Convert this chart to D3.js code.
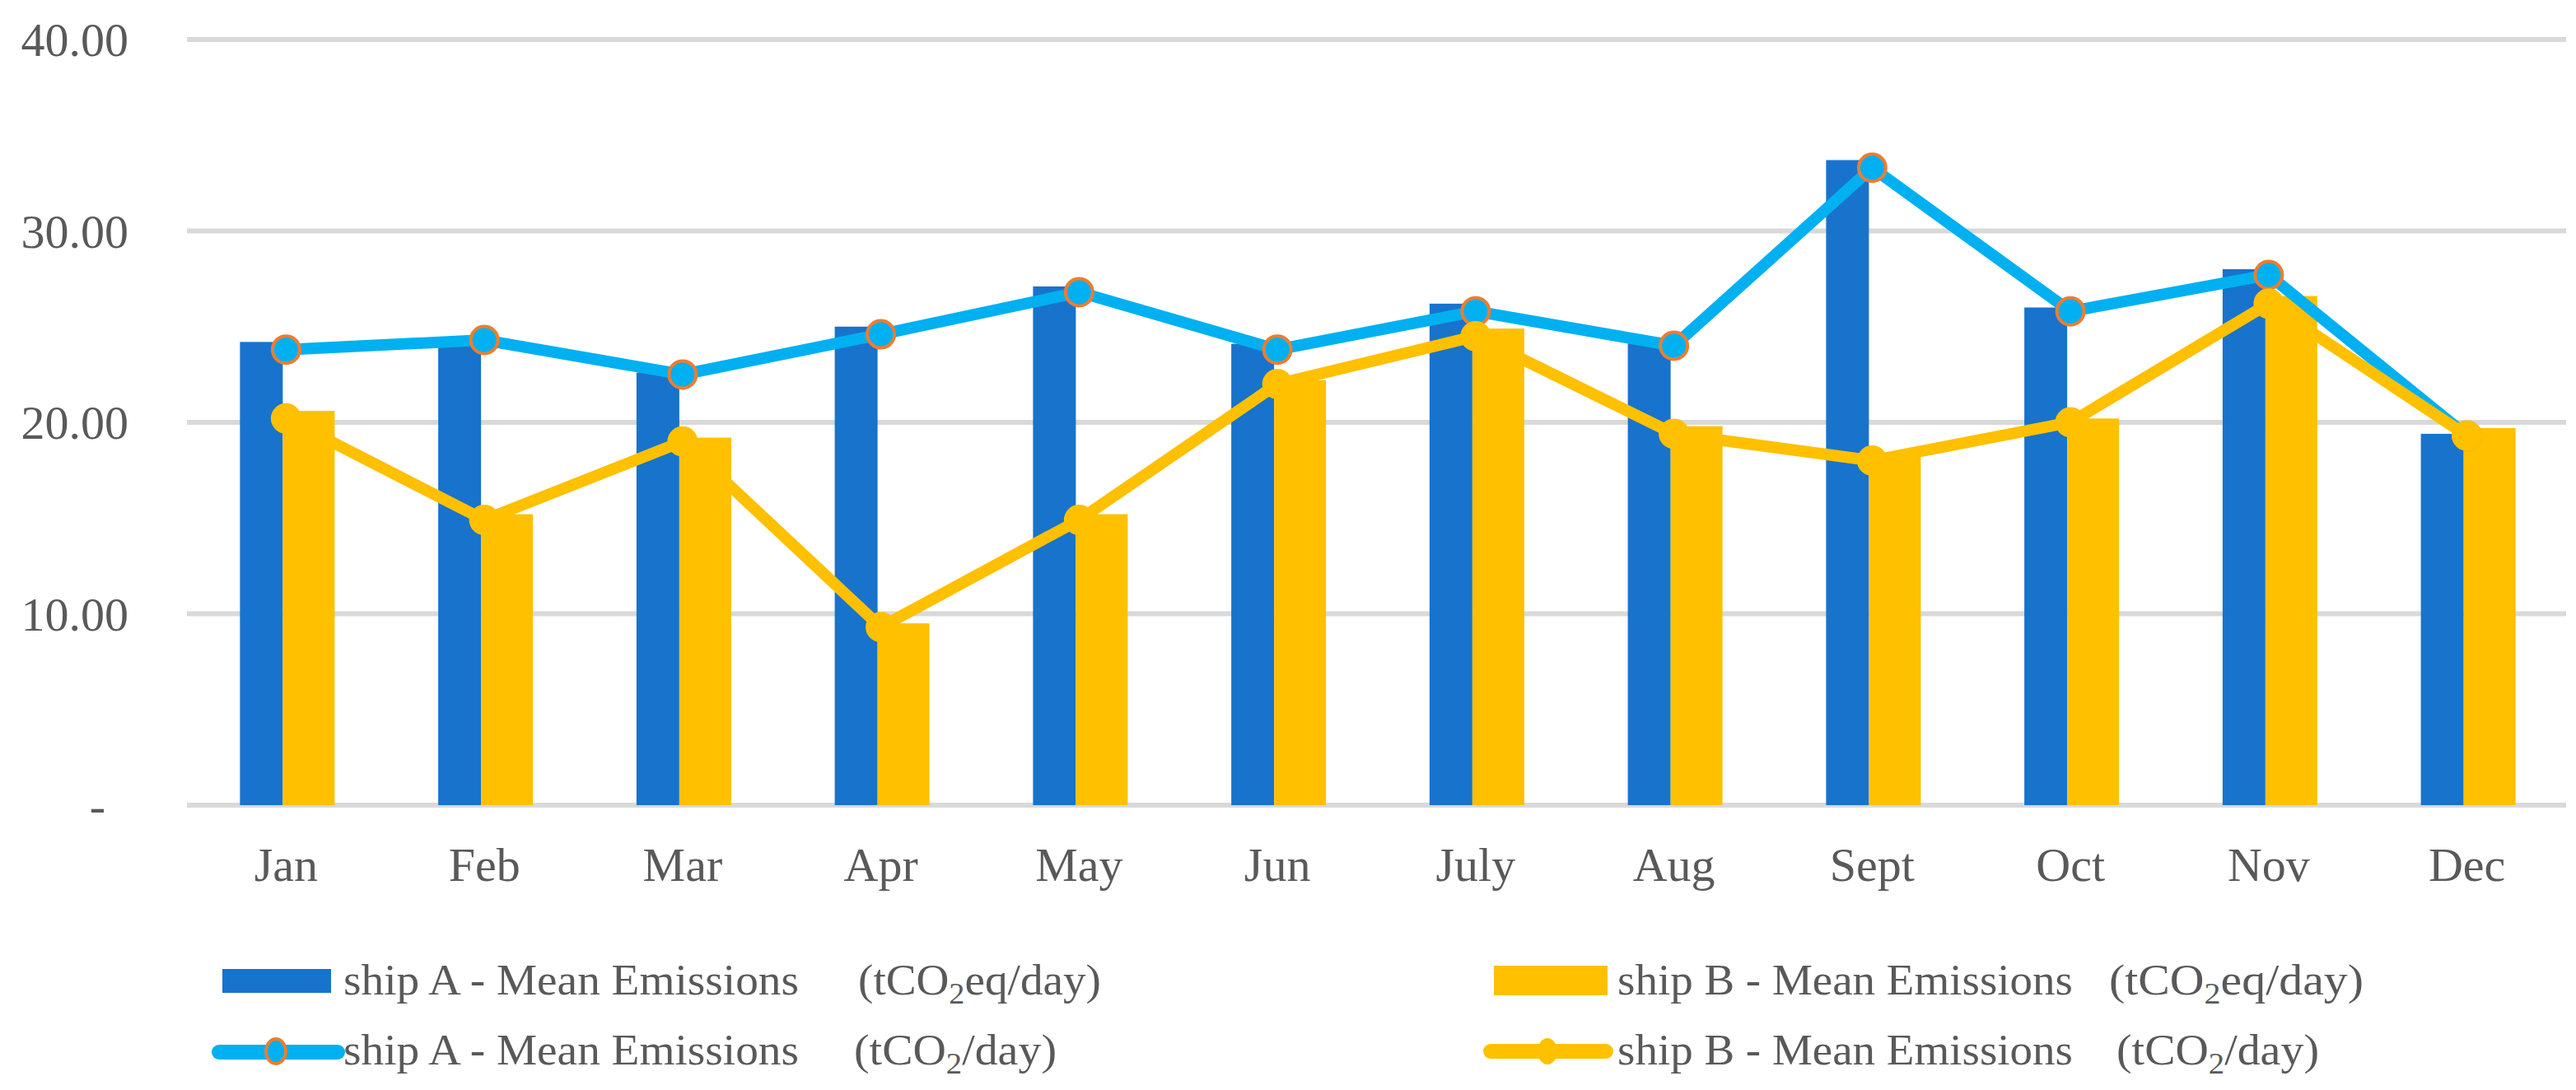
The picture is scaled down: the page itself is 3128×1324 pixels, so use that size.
<!DOCTYPE html>
<html>
<head>
<meta charset="utf-8">
<script src="https://cdn.jsdelivr.net/npm/d3@7"></script>
<style>
  body { margin: 0; background: #fff; }
  svg { display: block; }
  text { font-family: "Liberation Serif", "Times New Roman", serif; fill: #595959; }
</style>
</head>
<body>
<svg id="chart" width="3128" height="1324"></svg>
<script>
var months = ['Jan', 'Feb', 'Mar', 'Apr', 'May', 'Jun', 'July', 'Aug', 'Sept', 'Oct', 'Nov', 'Dec'];
var shipAeq = [24.2, 24.0, 22.6, 25.0, 27.1, 24.1, 26.2, 24.2, 33.7, 26.0, 28.0, 19.4];
var shipBeq = [20.6, 15.2, 19.2, 9.5, 15.2, 22.2, 24.9, 19.8, 18.2, 20.2, 26.6, 19.7];
var shipAco2 = [23.8, 24.3, 22.5, 24.6, 26.8, 23.8, 25.8, 24.0, 33.3, 25.8, 27.7, 19.3];
var shipBco2 = [20.2, 14.9, 19.0, 9.3, 14.9, 22.0, 24.5, 19.4, 18.0, 20.0, 26.2, 19.3];
var yTicks = [0, 10, 20, 30, 40];

var blue = '#1873CC', yellow = '#FFC000', cyan = '#00B0F0', orange = '#ED7D31';

var svg = d3.select('#chart');

var x = d3.scaleBand()
    .domain(months)
    .range([227, 3116]);

var y = d3.scaleLinear()
    .domain([0, 40])
    .range([978, 48]);

// gridlines
svg.append('g')
    .selectAll('line')
    .data(yTicks)
    .enter()
    .append('line')
    .attr('x1', 227)
    .attr('x2', 3116)
    .attr('y1', d => y(d))
    .attr('y2', d => y(d))
    .attr('stroke', '#D9D9D9')
    .attr('stroke-width', 6);

// y labels
var yAxis = svg.append('g')
    .attr('transform', 'translate(156,0)')
    .call(d3.axisLeft(y)
        .tickValues(yTicks)
        .tickSize(0)
        .tickPadding(0)
        .tickFormat(d => d === 0 ? '-' : d3.format('.2f')(d)));
yAxis.select('.domain').remove();
yAxis.selectAll('text')
    .attr('font-size', 58)
    .attr('font-family', null)
    .attr('fill', '#595959')
    .attr('dy', '0.34em')
    .filter(d => d === 0)
    .attr('x', -28);

// x labels
var xAxis = svg.append('g')
    .attr('transform', 'translate(0,1070)')
    .call(d3.axisBottom(x).tickSize(0).tickPadding(0));
xAxis.select('.domain').remove();
xAxis.selectAll('text')
    .attr('font-size', 58)
    .attr('font-family', null)
    .attr('fill', '#595959')
    .attr('y', 0)
    .attr('dy', 0);

var cx = m => x(m) + x.bandwidth() / 2;

// bars
svg.append('g')
    .selectAll('rect')
    .data(months)
    .enter()
    .append('rect')
    .attr('x', m => cx(m) - 56)
    .attr('width', 52)
    .attr('y', (m, i) => y(shipAeq[i]))
    .attr('height', (m, i) => y(0) - y(shipAeq[i]))
    .attr('fill', blue);

svg.append('g')
    .selectAll('rect')
    .data(months)
    .enter()
    .append('rect')
    .attr('x', m => cx(m) - 4)
    .attr('width', 63)
    .attr('y', (m, i) => y(shipBeq[i]))
    .attr('height', (m, i) => y(0) - y(shipBeq[i]))
    .attr('fill', yellow);

// lines
var line = d3.line()
    .x(d => cx(d.m))
    .y(d => y(d.v));

function drawSeries(vals, color, markStroke) {
    var pts = months.map((m, i) => ({ m: m, v: vals[i] }));
    svg.append('path')
        .datum(pts)
        .attr('d', line)
        .attr('fill', 'none')
        .attr('stroke', color)
        .attr('stroke-width', 14)
        .attr('stroke-linejoin', 'round');
    svg.append('g')
        .selectAll('circle')
        .data(pts)
        .enter()
        .append('circle')
        .attr('cx', d => cx(d.m))
        .attr('cy', d => y(d.v))
        .attr('r', 16.5)
        .attr('fill', color)
        .attr('stroke', markStroke)
        .attr('stroke-width', 4);
}
drawSeries(shipAco2, cyan, orange);
drawSeries(shipBco2, yellow, yellow);

// legend
var legend = svg.append('g');

function legendText(xp, yp, name, len) {
    legend.append('text')
        .attr('x', xp)
        .attr('y', yp)
        .attr('font-size', 52)
        .attr('textLength', len)
        .attr('lengthAdjust', 'spacingAndGlyphs')
        .text(name);
}
function unitText(xp, yp, pre, post, len) {
    var t = legend.append('text')
        .attr('x', xp)
        .attr('y', yp)
        .attr('font-size', 52)
        .attr('textLength', len)
        .attr('lengthAdjust', 'spacingAndGlyphs');
    t.append('tspan').text(pre);
    t.append('tspan').attr('font-size', 36).attr('dy', 11).text('2');
    t.append('tspan').attr('dy', -11).text(post);
}

legend.append('rect').attr('x', 270).attr('y', 1177).attr('width', 132).attr('height', 29).attr('fill', blue);
legendText(417, 1208, 'ship A - Mean Emissions', 553);
unitText(1042, 1208, '(tCO', 'eq/day)', 295);

legend.append('line').attr('x1', 266).attr('x2', 410).attr('y1', 1278).attr('y2', 1278)
    .attr('stroke', cyan).attr('stroke-width', 18).attr('stroke-linecap', 'round');
legend.append('ellipse').attr('cx', 335).attr('cy', 1277).attr('rx', 12).attr('ry', 15)
    .attr('fill', cyan).attr('stroke', orange).attr('stroke-width', 4);
legendText(417, 1293, 'ship A - Mean Emissions', 553);
unitText(1037, 1293, '(tCO', '/day)', 246);

legend.append('rect').attr('x', 1814).attr('y', 1173).attr('width', 138).attr('height', 36).attr('fill', yellow);
legendText(1964, 1208, 'ship B - Mean Emissions', 553);
unitText(2561, 1208, '(tCO', 'eq/day)', 309);

legend.append('line').attr('x1', 1810).attr('x2', 1950).attr('y1', 1277).attr('y2', 1277)
    .attr('stroke', yellow).attr('stroke-width', 18).attr('stroke-linecap', 'round');
legend.append('ellipse').attr('cx', 1879).attr('cy', 1277).attr('rx', 12).attr('ry', 16)
    .attr('fill', yellow);
legendText(1964, 1293, 'ship B - Mean Emissions', 553);
unitText(2570, 1293, '(tCO', '/day)', 246);
</script>
</body>
</html>
